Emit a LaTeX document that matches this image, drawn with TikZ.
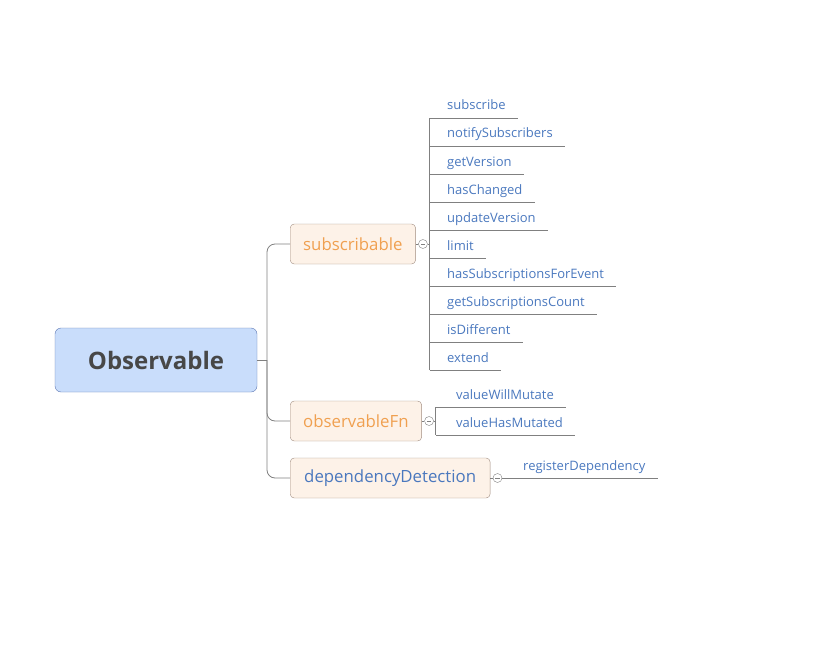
\documentclass[tikz,border=0pt]{standalone}
\usepackage{fontspec}
\setmainfont{Open Sans}
\usetikzlibrary{positioning}

\definecolor{rootfill}{RGB}{201,221,251}
\definecolor{rootdraw}{RGB}{92,118,178}
\definecolor{topicfill}{RGB}{253,242,232}
\definecolor{topicdraw}{RGB}{160,140,128}
\definecolor{orangetxt}{RGB}{240,160,80}
\definecolor{bluetxt}{RGB}{74,120,190}
\definecolor{linegray}{RGB}{128,128,128}

\begin{document}
\begin{tikzpicture}[x=1pt, y=-1pt,
      root/.style={rectangle, rounded corners=6pt, draw=rootdraw, fill=rootfill, minimum width=202pt, minimum height=64pt, text=black!72, font=\fontsize{24}{24}\selectfont\bfseries},
      topic/.style={rectangle, rounded corners=4pt, draw=topicdraw, fill=topicfill, minimum height=40pt, inner xsep=13pt, anchor=west, font=\fontsize{16.8}{16.8}\selectfont},
      leaf/.style={anchor=base west, inner xsep=12pt, inner ysep=0pt, text depth=8pt, text=bluetxt, font=\fontsize{13}{13}\selectfont},
      toggle/.style={circle, draw=linegray, fill=white, inner sep=0pt, minimum size=9pt, path picture={\draw[linegray] ([xshift=-2.2pt]path picture bounding box.center) -- ([xshift=2.2pt]path picture bounding box.center);}},
      link/.style={draw=linegray, line width=0.8pt}]
      \useasboundingbox (0,0) rectangle (832,650);
      \node[root](obs) at (156, 360){Observable};
      \node[topic, text=orangetxt](sub) at (290, 244){subscribable};
      \node[topic, text=orangetxt](fn) at (290, 421){observableFn};
      \node[topic, text=bluetxt, inner xsep=14pt](dep) at (290, 478){dependencyDetection};
      \coordinate(tr) at (267, 360);
      \node[toggle, right=2.5pt of sub](subc){};
      \node[toggle, right=2.5pt of fn](fnc){};
      \node[toggle, right=2.5pt of dep](depc){};
      \coordinate[right=2pt of subc](subsp);
      \coordinate[right=2pt of fnc](fnsp);
      % subscribable members
      \foreach \name [count=\i] in {subscribe, notifySubscribers, getVersion, hasChanged, updateVersion, limit, hasSubscriptionsForEvent, getSubscriptionsCount, isDifferent, extend}
        \node[leaf](s\i) at (435, 82+28*\i){\name};
      % observableFn members
      \node[leaf](f1) at (444, 399){valueWillMutate};
      \node[leaf](f2) at (444, 427){valueHasMutated};
      % dependencyDetection members
      \node[leaf](d1) at (511, 470){registerDependency};
      \draw[link] (obs) -- (tr);
      \draw[link, rounded corners=8pt] (sub) -| (tr) |- (dep);
      \draw[link, rounded corners=8pt] (tr) |- (fn);
      \draw[link] (sub) -- (subc);
      \draw[link] (subc) -- (subsp);
      \draw[link] (s1.south -| subsp) -- (s10.south -| subsp);
      \foreach \i in {1,...,10}
        \draw[link] (s\i.south -| subsp) -- (s\i.south east);
      \draw[link] (fn) -- (fnc);
      \draw[link] (fnc) -- (fnsp);
      \draw[link] (f1.south -| fnsp) -- (f2.south -| fnsp);
      \draw[link] (f1.south -| fnsp) -- (f1.south east);
      \draw[link] (f2.south -| fnsp) -- (f2.south east);
      \draw[link] (dep) -- (depc);
      \draw[link] (depc.east) -- (depc.east -| d1.south east);
    \end{tikzpicture}
\end{document}
